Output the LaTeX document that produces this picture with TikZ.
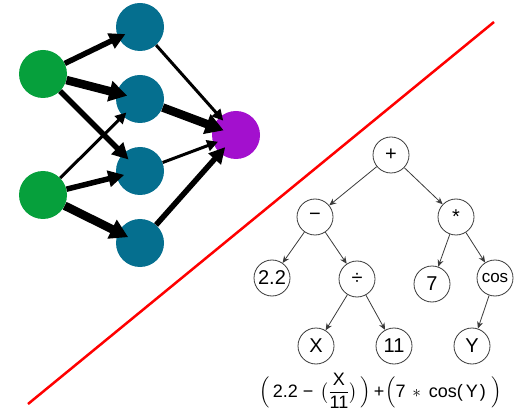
\documentclass[tikz,border=0pt]{standalone}
\usepackage{amsmath}
\usepackage{fontspec}
\setmainfont{Liberation Sans}
\usetikzlibrary{arrows.meta}

\definecolor{ingreen}{HTML}{06A03C}
\definecolor{hidteal}{HTML}{056F8F}
\definecolor{outpurple}{HTML}{A310CE}
\definecolor{treegray}{HTML}{3A3A3A}

\begin{document}
\begin{tikzpicture}
[
	x=1pt, y=-1pt,
	neuron/.style={circle,inner sep=0pt,minimum size=48pt},
	wthin/.style={line width=3pt,shorten >=-5pt,-{Triangle[length=11pt,width=11pt]}},
	wmid/.style={line width=5.5pt,shorten >=-8pt,-{Triangle[length=16pt,width=16pt]}},
	wthick/.style={line width=8.5pt,shorten >=-11pt,-{Triangle[length=18pt,width=20pt]}},
	op/.style={circle,draw=treegray,line width=0.8pt,inner sep=0pt,minimum size=36pt,font=\fontsize{20}{22}\selectfont},
	edge/.style={draw=treegray,line width=0.8pt,-{Stealth[length=7pt,width=6pt]}}
]
	\useasboundingbox (0,0) rectangle (521,419);

	% neural net
	\node[neuron,fill=ingreen] (in1) at (43,74) {};
	\node[neuron,fill=ingreen] (in2) at (43,195) {};
	\node[neuron,fill=hidteal] (h1) at (140,27) {};
	\node[neuron,fill=hidteal] (h2) at (140,99) {};
	\node[neuron,fill=hidteal] (h3) at (140,171) {};
	\node[neuron,fill=hidteal] (h4) at (140,243) {};
	\node[neuron,fill=outpurple] (out) at (236,135) {};

	\draw[wmid] (in1) -- (h1);
	\draw[wthick] (in1) -- (h2);
	\draw[wmid] (in1) -- (h3);
	\draw[wthin] (in2) -- (h2);
	\draw[wmid] (in2) -- (h3);
	\draw[wthick] (in2) -- (h4);
	\draw[wthin] (h1) -- (out);
	\draw[wthick] (h2) -- (out);
	\draw[wthin] (h3) -- (out);
	\draw[wmid] (h4) -- (out);

	% divider
	\draw[red,line width=2.5pt] (28,404) -- (494,22);

	% expression tree
	\node[op] (plus) at (391,155) {+};
	\node[op] (minus) at (315,217) {−};
	\node[op] (times) at (456,217) {*};
	\node[op] (twoptwo) at (272,278) {2.2};
	\node[op] (div) at (357,279) {÷};
	\node[op] (seven) at (432,284) {7};
	\node[op,font=\fontsize{17}{19}\selectfont] (cos) at (495,278) {cos};
	\node[op] (x) at (316,346) {X};
	\node[op] (eleven) at (394,346) {11};
	\node[op] (y) at (472,346) {Y};

	\draw[edge] (plus) -- (minus);
	\draw[edge] (plus) -- (times);
	\draw[edge] (minus) -- (twoptwo);
	\draw[edge] (minus) -- (div);
	\draw[edge] (times) -- (seven);
	\draw[edge] (times) -- (cos);
	\draw[edge] (div) -- (x);
	\draw[edge] (div) -- (eleven);
	\draw[edge] (cos) -- (y);

	\node[font=\fontsize{18}{20}\selectfont] (expr) at (381,391)
		{$\Bigl(\,\mbox{2.2 −}\hspace{7pt}\bigl(\dfrac{\mbox{X}}{\mbox{11}}\bigr)\hspace{3pt}\Bigr)\mbox{\hspace{3pt}+\hspace{1pt}}\Bigl(\mbox{7\hspace{3pt}}\ast\mbox{\hspace{4pt}cos(\hspace{3pt}Y\hspace{2pt})}\hspace{6pt}\Bigr)$};

\end{tikzpicture}
\end{document}
